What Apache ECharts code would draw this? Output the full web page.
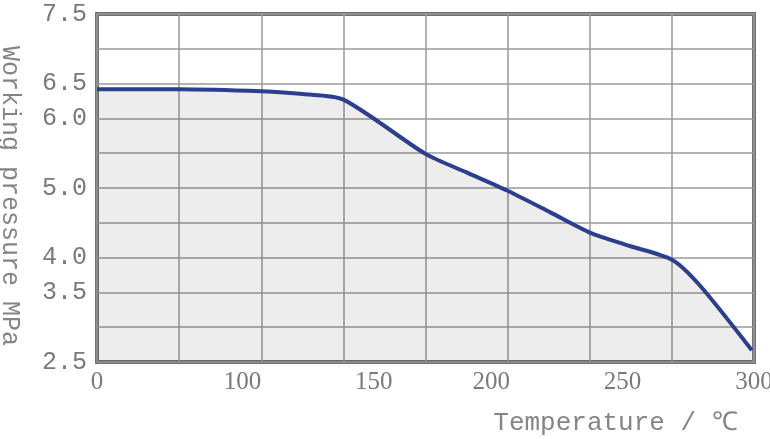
<!DOCTYPE html>
<html>
<head>
<meta charset="utf-8">
<script src="https://cdn.jsdelivr.net/npm/echarts@6/dist/echarts.min.js"></script>
<style>html,body{margin:0;padding:0;background:#fff;}#c{width:770px;height:439px;}</style>
</head>
<body>
<div id="c"></div>
<script>
// Data
const temperatures = [0, 37.5, 75, 94, 112.5, 150, 169, 187.5, 207, 225, 243, 262.5, 275, 299];
const pressures    = [6.42, 6.42, 6.39, 6.35, 6.27, 5.49, 5.22, 4.96, 4.65, 4.36, 4.17, 3.97, 3.61, 2.67];
const xTickLabels = ['0', '100', '150', '200', '250', '300'];
const yTickLabels = [7.5, 6.5, 6.0, 5.0, 4.0, 3.5, 2.5];
const xName = 'Temperature / ℃';
const yName = 'Working pressure MPa';

const grey = '#7a7a7a';
const chart = echarts.init(document.getElementById('c'), null, {renderer: 'canvas'});
const shifted = {'100': true, '150': true};

chart.setOption({
  animation: false,
  backgroundColor: '#fff',
  grid: {left: 97, right: 16, top: 14, bottom: 77, containLabel: false, outerBoundsMode: 'none',
         show: true, borderColor: '#727272', borderWidth: 4, backgroundColor: 'transparent'},
  xAxis: [{
    type: 'value', min: 0, max: 300, interval: 37.5,
    axisLine: {show: false}, axisTick: {show: false}, axisLabel: {show: false},
    splitLine: {show: true, lineStyle: {color: '#9a9a9a', width: 1.5}},
    name: xName, nameLocation: 'middle', nameGap: 48,
    nameTextStyle: {fontFamily: 'Liberation Mono', fontSize: 26, color: '#858585', padding: [0, 0, 0, 380]}
  }, {
    type: 'category', data: xTickLabels, boundaryGap: false, position: 'bottom',
    axisLine: {show: false}, axisTick: {show: false}, splitLine: {show: false},
    axisLabel: {
      margin: 8, fontFamily: 'Liberation Serif', fontSize: 25, color: grey,
      formatter: v => shifted[v] ? '{s|' + v + '}' : v,
      rich: {s: {padding: [0, 0, 0, 28], fontFamily: 'Liberation Serif', fontSize: 25, color: grey}}
    }
  }],
  yAxis: {
    type: 'value', min: 2.5, max: 7.5, interval: 0.5,
    axisLine: {show: false}, axisTick: {show: false},
    splitLine: {show: true, lineStyle: {color: '#9a9a9a', width: 1.5}},
    axisLabel: {
      margin: 10, fontFamily: 'Liberation Mono', fontSize: 25, color: grey,
      formatter: v => yTickLabels.some(t => Math.abs(t - v) < 1e-6) ? v.toFixed(1) : ''
    },
    name: yName, nameLocation: 'middle', nameRotate: -90, nameGap: 75,
    nameTextStyle: {fontFamily: 'Liberation Mono', fontSize: 25, color: '#858585', padding: [0, 0, 0, 16]}
  },
  series: [{
    type: 'line', xAxisIndex: 0,
    data: temperatures.map((t, i) => [t, pressures[i]]),
    smooth: 0.25, symbol: 'none',
    lineStyle: {color: '#2b3e8f', width: 4},
    areaStyle: {color: 'rgba(0,0,0,0.07)', opacity: 1, origin: 'start'}
  }]
});
</script>
</body>
</html>
